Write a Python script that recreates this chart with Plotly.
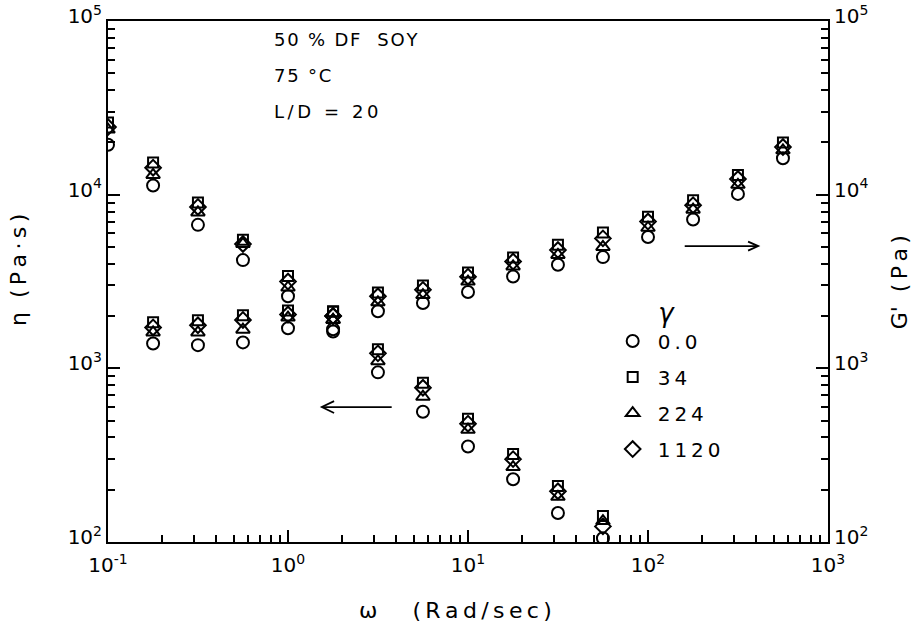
import plotly.graph_objects as go

# Frequencies (rad/s)
omega_eta = [0.1, 0.178, 0.316, 0.562, 1.0, 1.78, 3.16, 5.62, 10, 17.8, 31.6, 56.2]
omega_g = [0.178, 0.316, 0.562, 1.0, 1.78, 3.16, 5.62, 10, 17.8, 31.6, 56.2, 100, 178, 316, 562]

# Viscosity eta (Pa·s) for each gamma
eta_0 = [1.94e4, 1.13e4, 6.7e3, 4.2e3, 2.6e3, 1.68e3, 948, 562, 355, 230, 147, 105]
eta_34 = [2.6e4, 1.53e4, 9.0e3, 5.5e3, 3.4e3, 2.12e3, 1.29e3, 826, 513, 321, 210, 141]
eta_224 = [2.37e4, 1.30e4, 7.9e3, 5.2e3, 2.92e3, 1.9e3, 1.1e3, 686, 443, 270, 182, 132]
eta_1120 = [2.45e4, 1.43e4, 8.5e3, 5.2e3, 3.16e3, 2.0e3, 1.22e3, 773, 480, 300, 196, 123]

# Storage modulus G' (Pa) for each gamma
g_0 = [1.39e3, 1.36e3, 1.41e3, 1.70e3, 1.63e3, 2.13e3, 2.38e3, 2.75e3, 3.38e3, 3.95e3, 4.37e3, 5.7e3, 7.2e3, 1.01e4, 1.62e4]
g_34 = [1.84e3, 1.89e3, 2.02e3, 2.15e3, 2.13e3, 2.73e3, 3.0e3, 3.56e3, 4.35e3, 5.14e3, 6.05e3, 7.46e3, 9.3e3, 1.3e4, 2.0e4]
g_224 = [1.61e3, 1.61e3, 1.67e3, 1.96e3, 1.9e3, 2.4e3, 2.64e3, 3.16e3, 3.86e3, 4.5e3, 5.0e3, 6.45e3, 8.2e3, 1.14e4, 1.8e4]
g_1120 = [1.72e3, 1.77e3, 1.9e3, 2.04e3, 2.0e3, 2.6e3, 2.83e3, 3.37e3, 4.12e3, 4.8e3, 5.6e3, 7.0e3, 8.7e3, 1.23e4, 1.88e4]

gamma_labels = ["0.0", "34", "224", "1120"]
symbols = ["circle-open", "square-open", "triangle-up-open", "diamond-open"]
sizes = [12, 10, 12, 12]
eta_series = [eta_0, eta_34, eta_224, eta_1120]
g_series = [g_0, g_34, g_224, g_1120]

x_tickvals = [0.1, 1, 10, 100, 1000]
x_ticktext = ["10<sup>-1</sup>", "10<sup>0</sup>", "10<sup>1</sup>", "10<sup>2</sup>", "10<sup>3</sup>"]
y_tickvals = [1e2, 1e3, 1e4, 1e5]
y_ticktext = ["10<sup>2</sup>", "10<sup>3</sup>", "10<sup>4</sup>", "10<sup>5</sup>"]

FONT = "DejaVu Sans"
INK = "black"
THIN = "\u2009"
HAIR = "\u200a"


def spaced(text, gap=THIN):
    """Widen the lettering by putting a narrow space between characters."""
    return gap.join(text)


fig = go.Figure()

order = [0, 2, 3, 1]
for i in order:
    fig.add_trace(go.Scatter(
        x=omega_eta, y=eta_series[i], mode="markers", name=spaced(gamma_labels[i]),
        legendgroup=gamma_labels[i], legendrank=i + 1,
        marker=dict(symbol=symbols[i], size=sizes[i], color=INK, line=dict(width=2, color=INK)),
        yaxis="y", showlegend=True))
    fig.add_trace(go.Scatter(
        x=omega_g, y=g_series[i], mode="markers", name=gamma_labels[i],
        legendgroup=gamma_labels[i], showlegend=False,
        marker=dict(symbol=symbols[i], size=sizes[i], color=INK, line=dict(width=2, color=INK)),
        yaxis="y2"))


def minor_vals(lo, hi):
    vals = []
    for e in range(lo, hi):
        for m in range(2, 10):
            vals.append(m * 10 ** e)
    return vals


axis_common = dict(
    type="log", showline=True, linecolor=INK, linewidth=2,
    ticks="inside", ticklen=12, tickwidth=1.5, tickcolor=INK,
    showgrid=False, zeroline=False, automargin=False,
    tickfont=dict(family=FONT, size=20, color=INK),
)
minor_style = dict(ticks="inside", ticklen=7, tickwidth=1.5, tickcolor=INK,
                   tickmode="array", showgrid=False)

fig.update_layout(
    width=918, height=628,
    margin=dict(l=108, r=90, t=21, b=86, autoexpand=False),
    paper_bgcolor="white", plot_bgcolor="white",
    font=dict(family=FONT, color=INK),
    xaxis=dict(
        **axis_common, range=[-1, 3], mirror=True,
        tickmode="array", tickvals=x_tickvals, ticktext=x_ticktext,
        ticklabelstandoff=4,
        minor=dict(**minor_style, tickvals=minor_vals(-1, 3)),
    ),
    yaxis=dict(
        **axis_common, range=[2, 5],
        tickmode="array", tickvals=y_tickvals, ticktext=y_ticktext,
        ticklabelshift=-5,
        minor=dict(**minor_style, tickvals=minor_vals(2, 5)),
    ),
    yaxis2=dict(
        **axis_common, range=[2, 5], overlaying="y", side="right",
        tickmode="array", tickvals=y_tickvals, ticktext=y_ticktext,
        ticklabelshift=-5,
        minor=dict(**minor_style, tickvals=minor_vals(2, 5)),
    ),
    legend=dict(
        x=0.694, y=0.488, xanchor="left", yanchor="top",
        bgcolor="rgba(0,0,0,0)", borderwidth=0,
        font=dict(family=FONT, size=20, color=INK),
        title=dict(text="<i>γ</i>", side="top center", font=dict(family=FONT, size=26, color=INK)),
        tracegroupgap=7, itemwidth=40,
    ),
)

# Sample description
notes = [("50 % DF  SOY", 0.965, HAIR), ("75 °C", 0.896, HAIR), ("L/D = 20", 0.827, THIN)]
for text, y, gap in notes:
    fig.add_annotation(x=0.228, y=y, xref="paper", yref="paper", text=spaced(text, gap),
                       showarrow=False, xanchor="left", yanchor="middle",
                       font=dict(family=FONT, size=18, color=INK))

# Axis titles
fig.add_annotation(x=0.482, y=-0.132, xref="paper", yref="paper",
                   text="ω" + " " * 5 + spaced("(Rad/sec)"), showarrow=False,
                   xanchor="center", yanchor="middle",
                   font=dict(family=FONT, size=22, color=INK))
fig.add_annotation(x=-0.125, y=0.522, xref="paper", yref="paper",
                   text="η" + "  " + spaced("(Pa·s)"), showarrow=False, textangle=-90,
                   xanchor="center", yanchor="middle",
                   font=dict(family=FONT, size=22, color=INK))
fig.add_annotation(x=1.099, y=0.499, xref="paper", yref="paper",
                   text="G'" + "  " + spaced("(Pa)"), showarrow=False, textangle=-90,
                   xanchor="center", yanchor="middle",
                   font=dict(family=FONT, size=22, color=INK))

# Arrows pointing to the relevant axis for each branch
arrow_line = dict(color=INK, width=1.8)
fig.add_shape(type="line", xref="paper", yref="paper", x0=0.297, y0=0.259, x1=0.394, y1=0.259, line=arrow_line)
fig.add_shape(type="path", xref="paper", yref="paper",
              path="M 0.314 0.2705 L 0.297 0.259 L 0.314 0.2475", line=arrow_line)
fig.add_shape(type="line", xref="paper", yref="paper", x0=0.801, y0=0.568, x1=0.903, y1=0.568, line=arrow_line)
fig.add_shape(type="path", xref="paper", yref="paper",
              path="M 0.889 0.5766 L 0.903 0.568 L 0.889 0.5594", line=arrow_line)

fig.write_html("out.html")
